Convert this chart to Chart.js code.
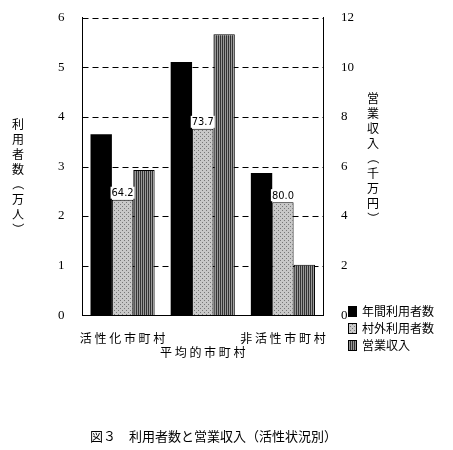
<!DOCTYPE html>
<html><head><meta charset="utf-8">
<script src="https://cdn.jsdelivr.net/npm/chart.js@4"></script>
<style>body{margin:0;background:#fff}#wrap{width:453px;height:450px}</style>
</head><body><div id="wrap"><canvas id="c"></canvas></div>
<script>
const categories = ['活 性 化 市 町 村', ['', '平 均 的 市 町 村'], '非 活 性 市 町 村'];
const users = [3.65, 5.11, 2.87];
const outsideUsers = [2.33, 3.76, 2.28];
const revenue = [5.86, 11.34, 2.04];
const outsideShare = ['64.2', '73.7', '80.0'];
const leftTicks = [0, 1, 2, 3, 4, 5, 6];
const rightTicks = [0, 2, 4, 6, 8, 10, 12];

function pattern(kind) {
    const p = document.createElement('canvas');
    p.width = 4; p.height = 4;
    const g = p.getContext('2d');
    if (kind === 'dots') {
        g.fillStyle = '#c8c8c8'; g.fillRect(0, 0, 4, 4);
        g.fillStyle = '#777';
        g.fillRect(0, 0, 1, 1); g.fillRect(2, 2, 1, 1);
    } else {
        g.fillStyle = '#999'; g.fillRect(0, 0, 4, 4);
        g.fillStyle = '#333'; g.fillRect(0, 0, 1, 4); g.fillRect(2, 0, 1, 4);
    }
    return g.createPattern(p, 'repeat');
}
const dots = pattern('dots'), stripes = pattern('stripes');

const serif = '"Liberation Serif", "DejaVu Serif", serif';
const jp = '"Noto Sans CJK JP", sans-serif';

const extras = {
    id: 'extras',
    afterDraw(chart) {
        const ctx = chart.ctx;
        ctx.save();
        // values above gray bars
        const meta = chart.getDatasetMeta(1);
        ctx.font = '11px "Liberation Sans Narrow", "DejaVu Sans Condensed", sans-serif';
        ctx.textAlign = 'center';
        ctx.textBaseline = 'bottom';
        meta.data.forEach((b, i) => {
            const w = ctx.measureText(outsideShare[i]).width;
            ctx.fillStyle = '#fff';
            ctx.fillRect(b.x - w / 2 - 1, b.y - 13, w + 2, 12);
            ctx.fillStyle = '#000';
            ctx.fillText(outsideShare[i], b.x, b.y - 1);
        });
        // vertical axis titles
        ctx.font = '12px ' + jp;
        ctx.textBaseline = 'middle';
        const vert = (text, x, y0) => {
            [...text].forEach((ch, i) => {
                const y = y0 + i * 15;
                if ('（）'.includes(ch)) {
                    ctx.save(); ctx.translate(x, y); ctx.rotate(Math.PI / 2);
                    ctx.fillText(ch, 0, 0); ctx.restore();
                } else ctx.fillText(ch, x, y);
            });
        };
        vert('利用者数（万人）', 18, 124);
        vert('営業収入（千万円）', 373, 98);
        // legend
        const items = [['年間利用者数', '#000'], ['村外利用者数', dots], ['営業収入', stripes]];
        ctx.textAlign = 'left';
        items.forEach((it, i) => {
            const y = 311 + i * 17;
            ctx.fillStyle = it[1];
            ctx.fillRect(348, y - 5, 9, 11);
            ctx.strokeStyle = '#000'; ctx.lineWidth = 1;
            ctx.strokeRect(348.5, y - 4.5, 8, 10);
            ctx.fillStyle = '#000';
            ctx.fillText(it[0], 362, y);
        });
        // caption
        ctx.font = '13px ' + jp;
        ctx.fillText('図３　利用者数と営業収入（活性状況別）', 90, 436);
        ctx.restore();
    }
};

new Chart(document.getElementById('c'), {
    type: 'bar',
    data: {
        labels: categories,
        datasets: [
            { data: users, backgroundColor: '#000', yAxisID: 'y' },
            { data: outsideUsers, backgroundColor: dots, borderColor: '#000', borderWidth: 1, yAxisID: 'y' },
            { data: revenue, backgroundColor: stripes, borderColor: '#000', borderWidth: 1, yAxisID: 'y2' }
        ]
    },
    options: {
        responsive: true,
        maintainAspectRatio: false,
        animation: false,
        datasets: { bar: { barPercentage: 1, categoryPercentage: 0.8 } },
        layout: { padding: { left: 48, right: 89, top: 14, bottom: 82 } },
        plugins: { legend: { display: false }, tooltip: { enabled: false } },
        scales: {
            x: {
                grid: { display: false },
                border: { color: '#000' },
                ticks: { color: '#000', font: { family: jp, size: 12 }, maxRotation: 0, padding: 8, autoSkip: false }
            },
            y: {
                min: 0, max: 6,
                afterBuildTicks: s => { s.ticks = leftTicks.map(v => ({ value: v })); },
                grid: { display: false },
                border: { color: '#000' },
                ticks: { color: '#000', padding: 10, font: { family: serif, size: 13 } }
            },
            y2: {
                position: 'right', min: 0, max: 12,
                afterBuildTicks: s => { s.ticks = rightTicks.map(v => ({ value: v })); },
                grid: { display: false },
                border: { color: '#000' },
                ticks: { color: '#000', padding: 10, font: { family: serif, size: 13 } }
            }
        }
    },
    plugins: [extras, {
        id: 'dashGrid',
        beforeDatasetsDraw(chart) {
            const { ctx, chartArea: a, scales } = chart;
            ctx.save();
            ctx.strokeStyle = '#000'; ctx.lineWidth = 1; ctx.setLineDash([6, 4]);
            leftTicks.slice(1).forEach(v => {
                const y = Math.round(scales.y.getPixelForValue(v)) + 0.5;
                ctx.beginPath(); ctx.moveTo(a.left, y); ctx.lineTo(a.right, y); ctx.stroke();
            });
            ctx.restore();
        }
    }]
});
</script></body></html>
